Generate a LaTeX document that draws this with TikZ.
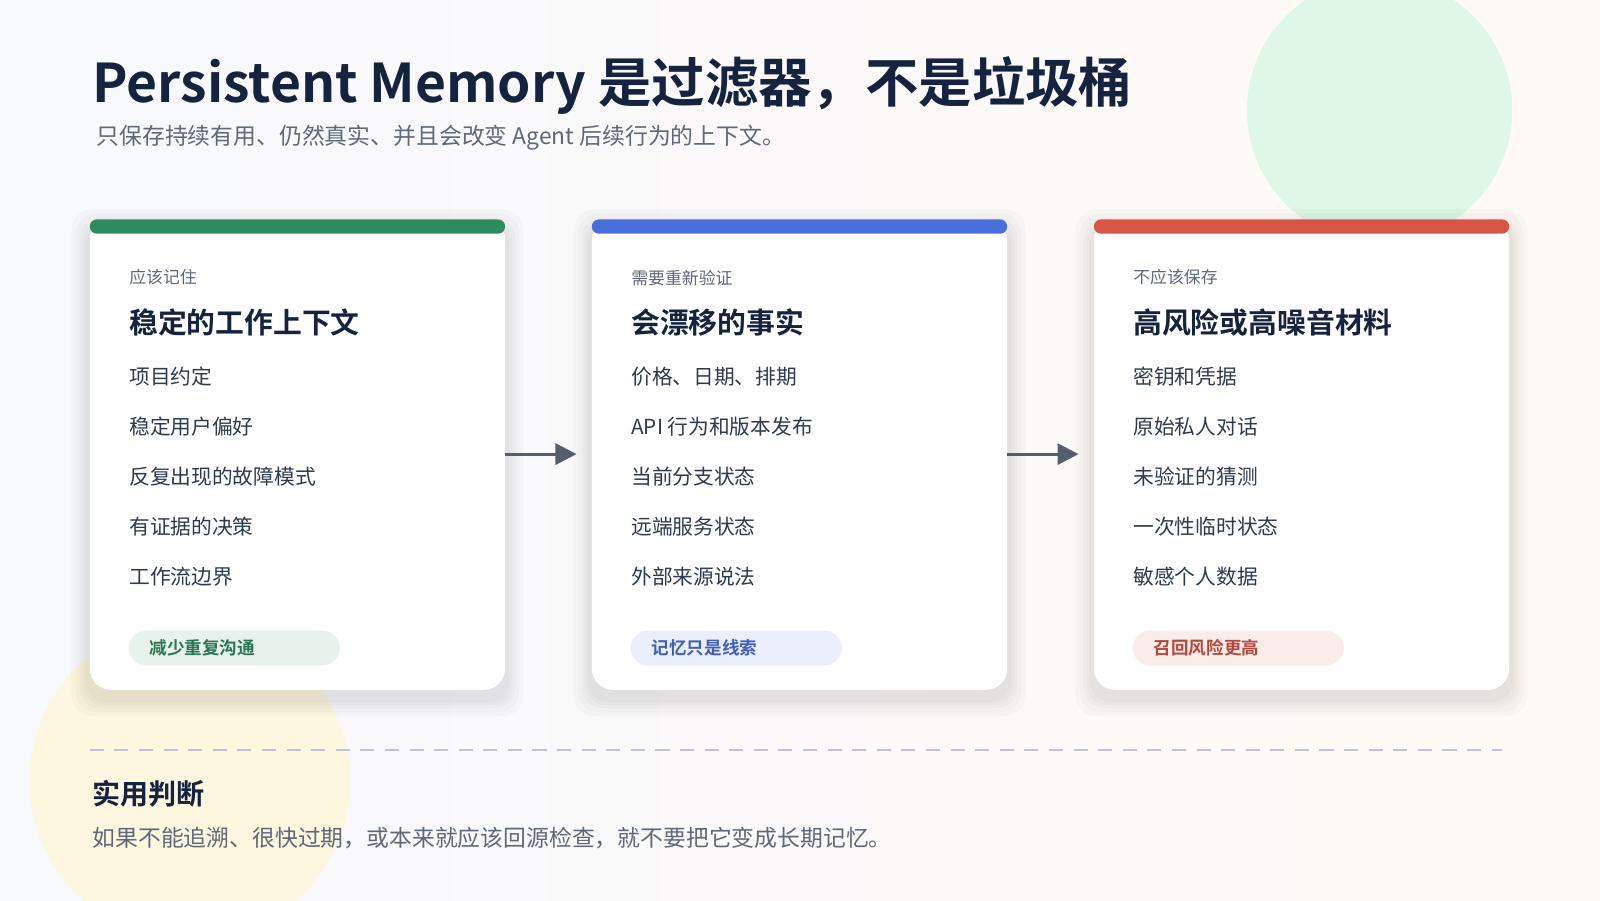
\documentclass[tikz,border=0pt]{standalone}
\usepackage{fontspec}
\setmainfont{Noto Sans CJK SC}
\newfontfamily\cjkb{Noto Sans CJK SC Bold}
\usetikzlibrary{arrows.meta}
\definecolor{ink}{HTML}{15233F}
\definecolor{body}{HTML}{2E3A4E}
\definecolor{grayt}{HTML}{5E6878}
\definecolor{cgreen}{HTML}{2E8B5E}
\definecolor{cblue}{HTML}{4A6FDC}
\definecolor{cred}{HTML}{D65546}
\tikzset{
 lab/.style={anchor=west,inner sep=0,text=grayt,font=\fontsize{4.8pt}{5pt}\selectfont},
 ttl/.style={anchor=west,inner sep=0,text=ink,font=\cjkb\fontsize{8.2pt}{9pt}\selectfont},
 item/.style={anchor=west,inner sep=0,text=body,font=\fontsize{5.9pt}{7pt}\selectfont},
 pilltxt/.style={anchor=west,inner sep=0,font=\cjkb\fontsize{5pt}{6pt}\selectfont},
 arr/.style={draw=grayt!90!black,line width=0.9pt,-{Triangle[length=6pt,width=6pt]}}
}
\begin{document}
\begin{tikzpicture}[x=0.010204cm,y=-0.010204cm]
\useasboundingbox (0,0) rectangle (1568,882);
\shade[left color=green!20!blue!3!white,right color=orange!4!white] (0,0) rectangle (1568,882);
\fill[green!50!teal!13!white] (1352,108) circle (130);
\fill[yellow!50!orange!11!white] (186,765) circle (157);
\node[anchor=west,inner sep=0,text=ink,font=\cjkb\fontsize{15.2pt}{16pt}\selectfont] (title) at (90,84) {Persistent Memory 是过滤器，不是垃圾桶};
\node[anchor=west,inner sep=0,text=grayt,font=\fontsize{6.5pt}{7pt}\selectfont] (sub) at (94,135) {只保存持续有用、仍然真实、并且会改变 Agent 后续行为的上下文。};
\foreach \x/\c/\n/\l/\t/\a/\b/\cc/\d/\e/\p/\pc in {
 88/cgreen/A/应该记住/稳定的工作上下文/项目约定/稳定用户偏好/反复出现的故障模式/有证据的决策/工作流边界/减少重复沟通/cgreen,
 580/cblue/B/需要重新验证/会漂移的事实/价格、日期、排期/API 行为和版本发布/当前分支状态/远端服务状态/外部来源说法/记忆只是线索/cblue,
 1072/cred/C/不应该保存/高风险或高噪音材料/密钥和凭据/原始私人对话/未验证的猜测/一次性临时状态/敏感个人数据/召回风险更高/cred}{
 \foreach \s in {18,14,10,7,4}{
   \fill[black,opacity=0.018,rounded corners=6pt] (\x-\s,215-\s+8) rectangle (\x+407+\s,676+\s+8);
 }
 \fill[white,rounded corners=6pt] (\x,215) rectangle ++(407,461);
 \node[inner sep=0] (card\n) at (\x+203,445) {};
 \fill[\c,rounded corners=2pt] (\x,215) rectangle ++(407,14);
 \fill[white] (\x,229) rectangle ++(407,6);
 \node[lab] (l\n) at (\x+38,272) {\l};
 \node[ttl] (t\n) at (\x+38,316) {\t};
 \node[item] (i1\n) at (\x+38,369) {\a};
 \node[item] (i2\n) at (\x+38,418) {\b};
 \node[item] (i3\n) at (\x+38,467) {\cc};
 \node[item] (i4\n) at (\x+38,516) {\d};
 \node[item] (i5\n) at (\x+38,565) {\e};
 \fill[\pc!11!white,rounded corners=5pt] (\x+38,618) rectangle ++(207,34);
 \node[pilltxt,text=\pc!85!black] (p\n) at (\x+58,635) {\p};
}
\coordinate (a1) at (495,445); \coordinate (a2) at (565,445);
\coordinate (b1) at (987,445); \coordinate (b2) at (1057,445);
\draw[arr] (a1) -- (a2);
\draw[arr] (b1) -- (b2);
\draw[draw=blue!20!gray!40,line width=0.6pt,dash pattern=on 4pt off 3pt] (88,735) -- (1472,735);
\node[anchor=west,inner sep=0,text=ink,font=\cjkb\fontsize{8pt}{9pt}\selectfont] (jh) at (90,778) {实用判断};
\node[anchor=west,inner sep=0,text=grayt,font=\fontsize{6.5pt}{7pt}\selectfont] (jt) at (90,821) {如果不能追溯、很快过期，或本来就应该回源检查，就不要把它变成长期记忆。};
\end{tikzpicture}
\end{document}
